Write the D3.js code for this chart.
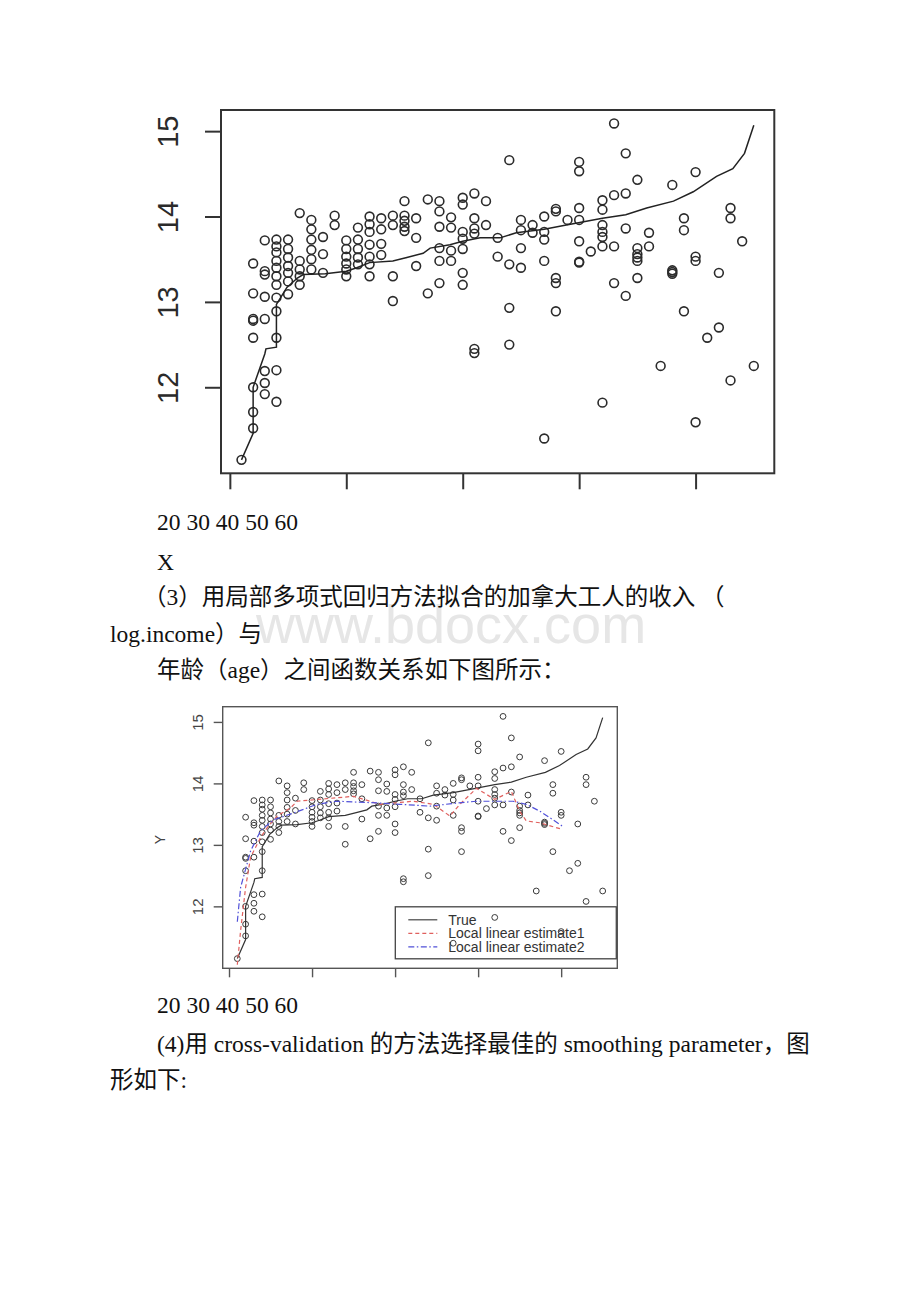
<!DOCTYPE html>
<html>
<head>
<meta charset="utf-8">
<script src="https://cdn.jsdelivr.net/npm/d3@7"></script>
<style>
  body { margin: 0; background: #fff; }
</style>
</head>
<body>
<div id="page"></div>
<script>
// ---- data ----
// ages present in the sample, and log income values at each age
var ageValues = [21, 22, 23, 24, 25, 26, 27, 28, 29, 30, 31, 32, 33, 34, 35, 36, 37, 38, 39, 40,
  41, 42, 43, 44, 45, 46, 47, 48, 49, 50, 51, 52, 53, 54, 55, 56, 57, 58, 59, 60, 61, 62, 63, 64, 65];

var incomeByAge = [
  [11.15],
  [11.52, 11.71, 12.0, 12.58, 12.78, 12.80, 13.10, 13.45],
  [11.92, 12.05, 12.19, 12.80, 13.06, 13.32, 13.36, 13.72],
  [11.83, 12.20, 12.58, 12.89, 13.05, 13.20, 13.30, 13.40, 13.48, 13.58, 13.65, 13.73],
  [13.09, 13.24, 13.34, 13.42, 13.52, 13.62, 13.73],
  [13.20, 13.30, 13.38, 13.48, 14.04],
  [13.38, 13.50, 13.61, 13.73, 13.85, 13.96],
  [13.34, 13.56, 13.76],
  [13.90, 14.01],
  [13.30, 13.38, 13.45, 13.53, 13.62, 13.72],
  [13.44, 13.52, 13.62, 13.73, 13.87],
  [13.30, 13.44, 13.53, 13.67, 13.82, 13.91, 14.00],
  [13.55, 13.68, 13.85, 13.98],
  [13.01, 13.30, 13.90, 14.01],
  [13.83, 13.88, 13.95, 14.01, 14.18],
  [13.42, 13.75, 13.98],
  [13.10, 14.20],
  [13.22, 13.48, 13.63, 13.88, 14.06, 14.18],
  [13.48, 13.60, 13.87, 13.99],
  [13.20, 13.34, 13.62, 13.74, 13.82, 14.14, 14.22],
  [12.40, 12.45, 13.80, 13.86, 13.98, 14.27],
  [13.90, 14.18],
  [13.53, 13.75],
  [12.50, 12.93, 13.44, 14.66],
  [13.40, 13.63, 13.84, 13.96],
  [13.81, 13.90],
  [11.40, 13.48, 13.73, 13.82, 14.00],
  [12.89, 13.22, 13.28, 14.06, 14.09],
  [13.96],
  [13.46, 13.47, 13.71, 13.96, 14.10, 14.53, 14.64],
  [13.59],
  [11.82, 13.65, 13.76, 13.82, 13.90, 14.08, 14.19],
  [13.22, 13.65, 14.25, 15.09],
  [13.07, 13.86, 14.27, 14.74],
  [13.28, 13.48, 13.52, 13.56, 13.63, 14.43],
  [13.65, 13.81],
  [12.25],
  [13.33, 13.35, 13.37, 14.37],
  [12.89, 13.84, 13.98],
  [11.59, 13.48, 13.53, 14.52],
  [12.58],
  [12.70, 13.34],
  [12.08, 13.98, 14.10],
  [13.71],
  [12.25]
];

// "True" curve
var trueAge = [21, 22, 22, 23, 23.1, 24, 24, 24.9, 25.8, 26.3, 28.2, 30, 30.9, 32, 34, 35.2, 36.6, 37.2,
  38.9, 40, 41.5, 43.2, 44.6, 47, 48.9, 52, 54, 55.8, 58.1, 59.8, 61.8, 63.2, 64.2, 65];
var trueY = [11.15, 11.46, 12.0, 12.39, 12.45, 12.47, 12.97, 13.17, 13.28, 13.32, 13.33, 13.36, 13.40, 13.46,
  13.48, 13.52, 13.57, 13.63, 13.67, 13.71, 13.75, 13.75, 13.81, 13.85, 13.90, 13.98, 14.02, 14.10,
  14.18, 14.29, 14.47, 14.56, 14.74, 15.07];

// Local linear estimate1
var est1Age = [21, 21.4, 22, 22.6, 23.8, 24.6, 25.8, 27.4, 28.2, 35, 38.2, 42.2, 44.6, 46.6, 47.8,
  49.8, 52, 54, 55, 55.8, 57.4, 60.2];
var est1Y = [11.05, 11.61, 12.31, 12.80, 13.12, 13.28, 13.47, 13.60, 13.71, 13.79, 13.66, 13.71, 13.66,
  13.47, 13.66, 13.92, 13.74, 13.87, 13.55, 13.39, 13.36, 13.25];

// Local linear estimate2
var est2Age = [21, 21.4, 22.6, 23.8, 25.4, 27.8, 30.6, 33, 38.2, 40.6, 44.2, 47.4, 49.8, 54.2, 55.8,
  57.4, 59, 60.2];
var est2Y = [11.75, 12.31, 12.90, 13.23, 13.41, 13.52, 13.66, 13.71, 13.68, 13.66, 13.63, 13.68, 13.71,
  13.71, 13.66, 13.55, 13.41, 13.30];

var xTicks = [20, 30, 40, 50, 60];
var yTicks = [12, 13, 14, 15];
var legendLabels = ["True", "Local linear estimate1", "Local linear estimate2"];

// page text
var pageLines = [
  "20 30 40 50 60",
  "X",
  "（3）用局部多项式回归方法拟合的加拿大工人的收入 （",
  "log.income）与",
  "年龄（age）之间函数关系如下图所示：",
  "20 30 40 50 60",
  "(4)用 cross-validation 的方法选择最佳的 smoothing parameter，图",
  "形如下:"
];

// ---- build ----
var points = [];
ageValues.forEach(function(a, i) {
  incomeByAge[i].forEach(function(v) { points.push({ age: a, y: v }); });
});
var trueLine = trueAge.map(function(a, i) { return [a, trueY[i]]; });
var est1Line = est1Age.map(function(a, i) { return [a, est1Y[i]]; });
var est2Line = est2Age.map(function(a, i) { return [a, est2Y[i]]; });

// R style 4% padding
function padded(ext) {
  var d = (ext[1] - ext[0]) * 0.04;
  return [ext[0] - d, ext[1] + d];
}
var xDom = padded(d3.extent(ageValues));
var yDom = padded(d3.extent(points.concat(trueLine.map(function(p) { return { y: p[1] }; })), function(d) { return d.y; }));

var svg = d3.select("#page").append("svg")
  .attr("width", 920)
  .attr("height", 1302)
  .style("background", "#fff");

function drawChart(o) {
  var x = d3.scaleLinear().domain(xDom).range([0, o.width]);
  var y = d3.scaleLinear().domain(yDom).range([o.height, 0]);

  var g = svg.append("g").attr("transform", "translate(" + o.left + "," + o.top + ")");

  // x axis ticks (labels live in the page text)
  var xAxis = g.append("g")
    .attr("transform", "translate(0," + o.height + ")")
    .call(d3.axisBottom(x).tickValues(xTicks).tickSize(o.tick).tickSizeOuter(0).tickFormat(""));
  xAxis.select(".domain").remove();
  xAxis.selectAll("line").attr("stroke", o.axisColor).attr("stroke-width", o.axisWidth);

  // y axis
  var yAxis = g.append("g")
    .call(d3.axisLeft(y).tickValues(yTicks).tickSize(o.tick).tickSizeOuter(0).tickFormat(d3.format("d")));
  yAxis.select(".domain").remove();
  yAxis.attr("font-family", "'Liberation Sans', Arial, sans-serif").attr("font-size", o.labelSize);
  yAxis.selectAll("line").attr("stroke", o.axisColor).attr("stroke-width", o.axisWidth);
  yAxis.selectAll("text")
    .attr("transform", "rotate(-90)")
    .attr("x", 0)
    .attr("y", -o.labelOffset)
    .attr("dy", null)
    .attr("text-anchor", "middle")
    .attr("fill", o.labelColor);

  // points
  g.selectAll("circle.pt")
    .data(points)
    .enter()
    .append("circle")
    .attr("class", "pt")
    .attr("cx", function(d) { return x(d.age); })
    .attr("cy", function(d) { return y(d.y); })
    .attr("r", o.r)
    .attr("fill", "none")
    .attr("stroke", o.ptColor)
    .attr("stroke-width", o.ptWidth);

  var line = d3.line()
    .x(function(d) { return x(d[0]); })
    .y(function(d) { return y(d[1]); });

  g.append("path")
    .datum(trueLine)
    .attr("d", line)
    .attr("fill", "none")
    .attr("stroke", o.lineColor)
    .attr("stroke-width", o.lineWidth);

  if (o.estimates) {
    g.append("path")
      .datum(est1Line)
      .attr("d", line)
      .attr("fill", "none")
      .attr("stroke", "#e0605e")
      .attr("stroke-width", 1.2)
      .attr("stroke-dasharray", "4,3");
    g.append("path")
      .datum(est2Line)
      .attr("d", line)
      .attr("fill", "none")
      .attr("stroke", "#5050d8")
      .attr("stroke-width", 1.2)
      .attr("stroke-dasharray", "6,2.5,1.5,2.5");

    // legend (transparent, like R)
    var lg = g.append("g").attr("transform", "translate(" + (o.width - 222) + "," + (o.height - 61.5) + ")");
    lg.append("rect")
      .attr("width", 221).attr("height", 52)
      .attr("fill", "none")
      .attr("stroke", "#444").attr("stroke-width", 1.3);
    var styles = [
      { c: "#444", dash: null },
      { c: "#e0605e", dash: "4,3" },
      { c: "#5050d8", dash: "6,2.5,1.5,2.5" }
    ];
    legendLabels.forEach(function(lab, i) {
      var ly = 13 + i * 13.5;
      lg.append("line")
        .attr("x1", 13).attr("x2", 42).attr("y1", ly).attr("y2", ly)
        .attr("stroke", styles[i].c).attr("stroke-width", 1.2)
        .attr("stroke-dasharray", styles[i].dash);
      lg.append("text")
        .attr("x", 53).attr("y", ly + 5)
        .attr("font-family", "'Liberation Sans', Arial, sans-serif")
        .attr("font-size", 14)
        .attr("fill", "#333")
        .text(lab);
    });

    // y label
    g.append("text")
      .attr("transform", "translate(" + (-58) + "," + (o.height / 2 + 2) + ") rotate(-90)")
      .attr("text-anchor", "middle")
      .attr("font-family", "'Liberation Sans', Arial, sans-serif")
      .attr("font-size", 14)
      .attr("fill", "#444")
      .text("Y");
  }

  // box
  g.append("rect")
    .attr("width", o.width).attr("height", o.height)
    .attr("fill", "none")
    .attr("stroke", o.axisColor)
    .attr("stroke-width", o.axisWidth);
}

// watermark behind the text
svg.append("text")
  .attr("x", 256).attr("y", 643)
  .attr("font-family", "'Liberation Sans', Arial, sans-serif")
  .attr("font-size", 54)
  .attr("fill", "#e6e6e6")
  .text("www.bdocx.com");

drawChart({
  left: 221, top: 110, width: 553.3, height: 363.3,
  tick: 16, labelOffset: 43, labelSize: 29, labelColor: "#2a2a2a",
  axisColor: "#333", axisWidth: 2,
  r: 4.4, ptColor: "#2b2b2b", ptWidth: 1.6,
  lineColor: "#222", lineWidth: 1.5,
  estimates: false
});

drawChart({
  left: 222.7, top: 706.7, width: 394.6, height: 261.6,
  tick: 9, labelOffset: 19.5, labelSize: 15, labelColor: "#444",
  axisColor: "#555", axisWidth: 1.4,
  r: 2.9, ptColor: "#3a3a3a", ptWidth: 1,
  lineColor: "#333", lineWidth: 1.2,
  estimates: true
});

// page text lines
var linePos = [
  [157, 530], [157, 570], [143, 605], [110, 642], [157, 678],
  [157, 1013], [157, 1052], [110, 1088]
];
svg.selectAll("text.doc")
  .data(pageLines)
  .enter()
  .append("text")
  .attr("class", "doc")
  .attr("x", function(d, i) { return linePos[i][0]; })
  .attr("y", function(d, i) { return linePos[i][1]; })
  .attr("font-family", "'Liberation Serif', 'Times New Roman', 'Noto Sans CJK SC', serif")
  .attr("font-size", 23.5)
  .attr("fill", "#111")
  .text(function(d) { return d; });
</script>
</body>
</html>
